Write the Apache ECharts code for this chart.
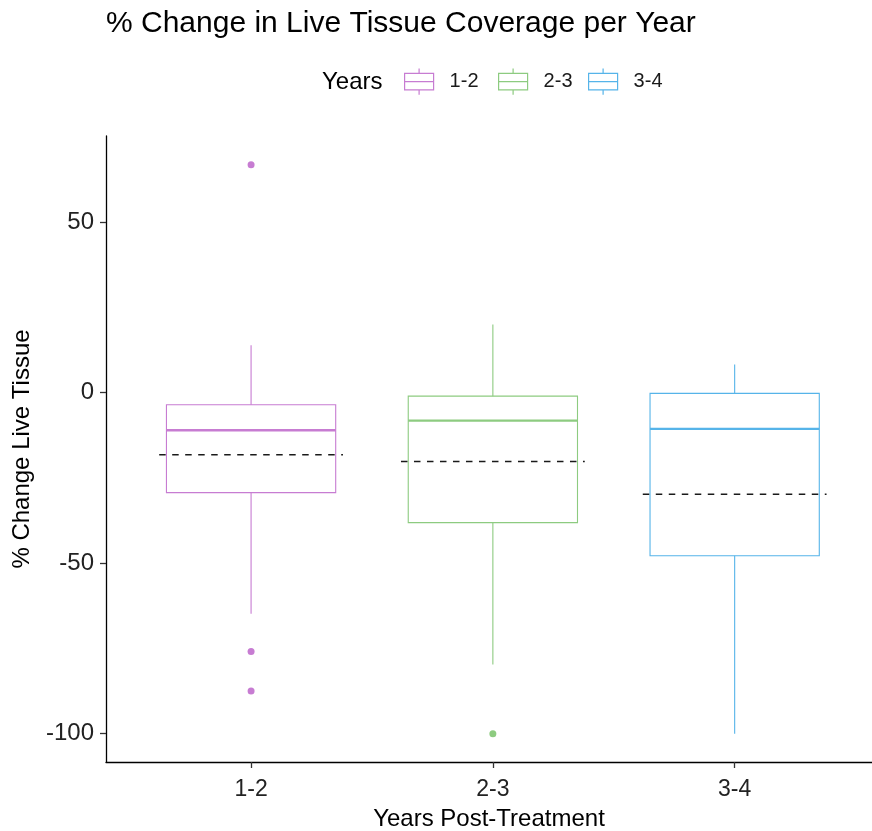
<!DOCTYPE html>
<html>
<head>
<meta charset="utf-8">
<script src="https://cdn.jsdelivr.net/npm/echarts@6/dist/echarts.min.js"></script>
<style>
html,body{margin:0;padding:0;background:#fff;}
#chart{width:872px;height:831px;}
</style>
</head>
<body>
<div id="chart"></div>
<script>
// ---- data ----
var categories = ['1-2', '2-3', '3-4'];
var whiskerLow = [-64.8, -79.7, -100];
var q1Values = [-29.3, -38.1, -47.8];
var medianValues = [-11.0, -8.2, -10.6];
var q3Values = [-3.5, -1.0, -0.2];
var whiskerHigh = [13.9, 20.0, 8.3];
var meanValues = [-18.2, -20.2, -29.8];
var outliers12 = [66.9, -75.9, -87.5];
var outliers23 = [-100];
var outliers34 = [];
var yTicks = [-100, -50, 0, 50];
var colors = ['#C77CD2', '#8DCB80', '#56B4E9'];

var outlierLists = [outliers12, outliers23, outliers34];
var FONT = '"Liberation Sans", Arial, sans-serif';

function boxRender(params, api) {
  var x = api.value(0);
  var wl = api.value(1), q1 = api.value(2), md = api.value(3), q3 = api.value(4), wh = api.value(5);
  var half = 0.35;
  var col = api.visual('color');
  var tl = api.coord([x - half, q3]);
  var br = api.coord([x + half, q1]);
  var pm = api.coord([x, md]);
  var pwh = api.coord([x, wh]);
  var pwl = api.coord([x, wl]);
  var xl = tl[0], xr = br[0], xc = pm[0];
  var lineStyle = {stroke: col, lineWidth: 1.1, fill: null};
  return {
    type: 'group',
    children: [
      {type: 'line', shape: {x1: xc, y1: pwh[1], x2: xc, y2: tl[1]}, style: lineStyle},
      {type: 'line', shape: {x1: xc, y1: br[1], x2: xc, y2: pwl[1]}, style: lineStyle},
      {type: 'rect', shape: {x: xl, y: tl[1], width: xr - xl, height: br[1] - tl[1]}, style: {stroke: col, lineWidth: 1.1, fill: 'rgba(255,255,255,0)'}},
      {type: 'line', shape: {x1: xl, y1: pm[1], x2: xr, y2: pm[1]}, style: {stroke: col, lineWidth: 2.3}}
    ]
  };
}

function meanRender(params, api) {
  var x = api.value(0), m = api.value(1);
  var half = 0.38;
  var a = api.coord([x - half, m]);
  var b = api.coord([x + half, m]);
  return {type: 'line', shape: {x1: a[0], y1: a[1], x2: b[0], y2: b[1]},
    style: {stroke: '#1a1a1a', lineWidth: 1.5, lineDash: [6.5, 6.5]}};
}

var series = [];
categories.forEach(function (c, i) {
  series.push({
    name: c,
    type: 'custom',
    renderItem: boxRender,
    itemStyle: {color: colors[i]},
    encode: {x: 0, y: [1, 2, 3, 4, 5]},
    data: [[i + 1, whiskerLow[i], q1Values[i], medianValues[i], q3Values[i], whiskerHigh[i]]],
    z: 2
  });
  series.push({
    name: c,
    type: 'scatter',
    symbol: 'circle',
    symbolSize: 7,
    itemStyle: {color: colors[i], opacity: 1},
    data: outlierLists[i].map(function (v) { return [i + 1, v]; }),
    z: 3
  });
});
series.push({
  name: 'mean',
  type: 'custom',
  renderItem: meanRender,
  encode: {x: 0, y: 1},
  data: categories.map(function (c, i) { return [i + 1, meanValues[i]]; }),
  z: 4
});

var iconPath = 'path://M0,5 L30,5 L30,22 L0,22 Z M0,13.5 L30,13.5 M15,0 L15,5 M15,22 L15,27';
var legendLefts = [404, 498, 588];
var legends = categories.map(function (c, i) {
  return {
    left: legendLefts[i],
    top: 68,
    padding: 0,
    itemWidth: 29,
    itemHeight: 27,
    selectedMode: false,
    data: [{name: c, icon: iconPath, itemStyle: {color: 'rgba(0,0,0,0)', borderColor: colors[i], borderWidth: 1.2}}],
    textStyle: {fontFamily: FONT, fontSize: 20, color: '#1a1a1a', padding: [2, 0, 0, 11]}
  };
});

var chart = echarts.init(document.getElementById('chart'), null, {renderer: 'canvas'});
chart.setOption({
  backgroundColor: '#ffffff',
  animation: false,
  title: [
    {text: '% Change in Live Tissue Coverage per Year', left: 106, top: 9, padding: 0,
      textStyle: {fontFamily: FONT, fontSize: 30, fontWeight: 'normal', color: '#000'}},
    {text: 'Years', left: 322, top: 70, padding: 0,
      textStyle: {fontFamily: FONT, fontSize: 24, fontWeight: 'normal', color: '#000'}}
  ],
  legend: legends,
  grid: {left: 106, right: 0, top: 136, bottom: 69, containLabel: false, outerBoundsMode: 'none'},
  xAxis: {
    type: 'value',
    min: 0.4,
    max: 3.568,
    name: 'Years Post-Treatment',
    nameLocation: 'middle',
    nameGap: 45,
    nameTextStyle: {fontFamily: FONT, fontSize: 24, color: '#000'},
    axisLine: {show: true, onZero: false, lineStyle: {color: '#000', width: 1.3}},
    axisTick: {show: true, length: 6, customValues: [1, 2, 3], lineStyle: {color: '#333', width: 1.3}},
    axisLabel: {customValues: [1, 2, 3], margin: 16, fontFamily: FONT, fontSize: 23, color: '#222',
      formatter: function (v) { return categories[Math.round(v) - 1] || ''; }},
    splitLine: {show: false}
  },
  yAxis: {
    type: 'value',
    min: -108.3,
    max: 75.3,
    name: '% Change Live Tissue',
    nameLocation: 'middle',
    nameGap: 72,
    nameRotate: 90,
    nameTextStyle: {fontFamily: FONT, fontSize: 24, color: '#000'},
    axisLine: {show: true, onZero: false, lineStyle: {color: '#000', width: 1.3}},
    axisTick: {show: true, length: 6, customValues: yTicks, lineStyle: {color: '#333', width: 1.3}},
    axisLabel: {customValues: yTicks, margin: 12, fontFamily: FONT, fontSize: 24, color: '#222'},
    splitLine: {show: false}
  },
  series: series
});
</script>
</body>
</html>
